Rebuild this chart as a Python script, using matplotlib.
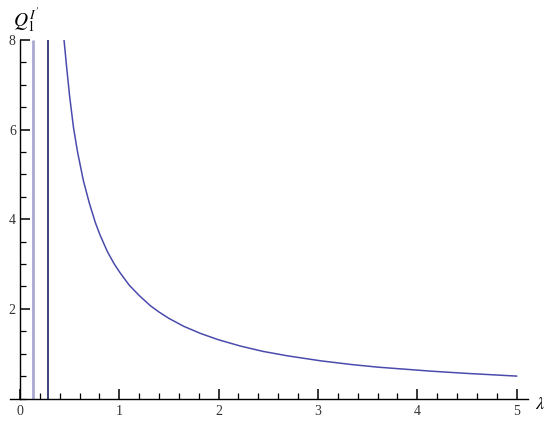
import numpy as np
import matplotlib
matplotlib.use("Agg")
import matplotlib.pyplot as plt
from matplotlib.ticker import MultipleLocator, FixedLocator

# curve
lam = [0.444, 0.47, 0.50, 0.539, 0.58, 0.64, 0.70, 0.76, 0.808, 0.88, 0.95,
       1.01, 1.10, 1.20, 1.313, 1.40, 1.498, 1.65, 1.82, 2.0, 2.22, 2.45,
       2.70, 3.03, 3.33, 3.60, 3.84, 4.14, 4.5, 5.0]
q1 = [8.0, 7.4, 6.75, 6.05, 5.5, 4.85, 4.35, 3.92, 3.64, 3.28, 3.0,
      2.80, 2.53, 2.30, 2.07, 1.93, 1.79, 1.61, 1.45, 1.31, 1.17, 1.05,
      0.95, 0.84, 0.76, 0.70, 0.66, 0.61, 0.56, 0.50]

# vertical branches
vert_x = [0.128, 0.28]
vert_colors = ["#a9a9d2", "#303070"]
vert_widths = [2.0, 1.3]

x_major = [0, 1, 2, 3, 4, 5]
y_major = [2, 4, 6, 8]

plt.rcParams["mathtext.fontset"] = "stix"

fig = plt.figure(figsize=(5.5, 4.25), dpi=100)
W, H = 550.0, 425.0
left, right = 10 / W, 527.5 / W
bottom, top = 1 - 398.5 / H, 1 - 40 / H
ax = fig.add_axes([left, bottom, right - left, top - bottom])

ax.set_xlim(-0.1, 5.11)
ax.set_ylim(0, 8)

for xv, c, lw in zip(vert_x, vert_colors, vert_widths):
    ax.plot([xv, xv], [0, 8], color=c, lw=lw, solid_capstyle="butt")

ax.plot(lam, q1, color="#4b4bad", lw=1.1)

for s in ["top", "right"]:
    ax.spines[s].set_visible(False)
ax.spines["left"].set_position(("data", 0))
ax.spines["bottom"].set_position(("data", 0))
ax.spines["left"].set_linewidth(1.0)
ax.spines["bottom"].set_linewidth(1.0)
ax.xaxis.set_ticks_position("bottom")
ax.yaxis.set_ticks_position("left")

ax.xaxis.set_major_locator(FixedLocator(x_major))
ax.xaxis.set_minor_locator(MultipleLocator(0.2))
ax.yaxis.set_major_locator(FixedLocator(y_major))
ax.yaxis.set_minor_locator(MultipleLocator(0.5))

tick_font = dict(family="Liberation Serif", size=10)
ax.set_xticklabels([str(v) for v in x_major], **tick_font, color="#333333")
ax.set_yticklabels([str(v) for v in y_major], **tick_font, color="#333333")

ax.tick_params(axis="both", which="major", direction="in", length=7, width=1.1, color="black")
ax.tick_params(axis="both", which="minor", direction="in", length=4, width=0.9, color="black")
ax.tick_params(axis="x", which="major", pad=5)
ax.tick_params(axis="y", which="major", pad=3)

fig.text(540 / W, 1 - 404 / H, r"$\lambda$", fontsize=13, ha="center", va="center")
fig.text(26 / W, 1 - 20 / H, r"$Q_1^{I\,'}$", fontsize=14, ha="center", va="center")

fig.savefig("out.png", dpi=100)
